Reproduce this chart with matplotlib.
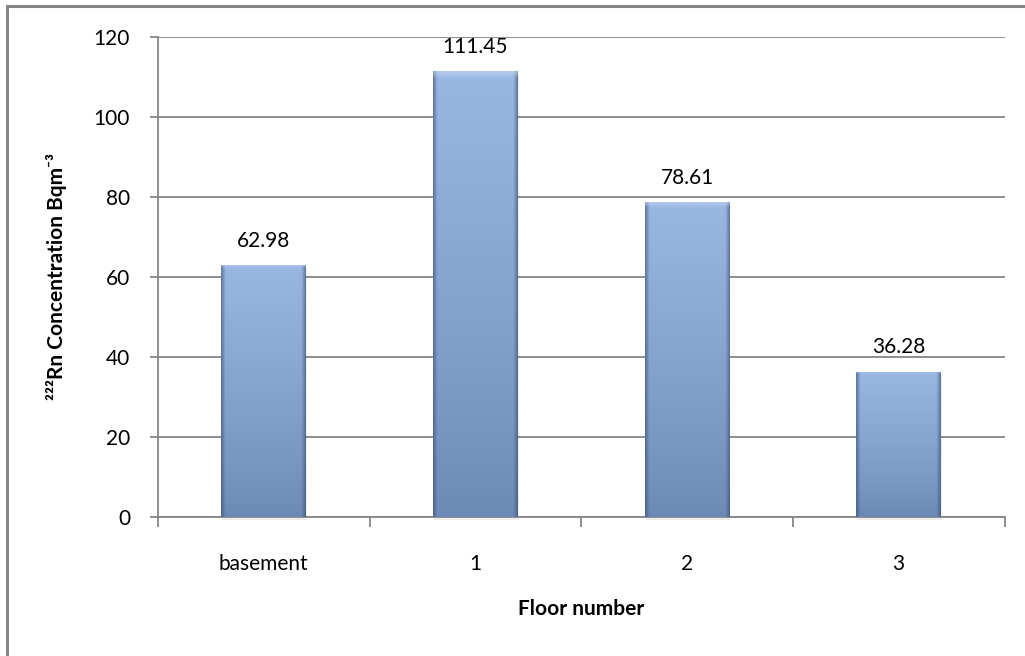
import numpy as np
import matplotlib
matplotlib.use("Agg")
import matplotlib.pyplot as plt
from matplotlib.patches import Rectangle
from matplotlib.colors import to_rgb

floors = ["basement", "1", "2", "3"]
radon = [62.98, 111.45, 78.61, 36.28]
y_ticks = [0, 20, 40, 60, 80, 100, 120]

plt.rcParams["font.family"] = ["Lato", "DejaVu Sans"]

fig = plt.figure(figsize=(10.25, 6.56), dpi=100)
ax = fig.add_axes([0.154, 0.212, 0.826, 0.732])

bar_w = 0.40
x = np.arange(len(floors))

top_c = np.array(to_rgb("#9ab7e3"))
bot_c = np.array(to_rgb("#6c89b6"))
edge_c = np.array(to_rgb("#34496e"))


def bar_image(h_px=200, w_px=80):
    t = np.linspace(0, 1, h_px)[:, None, None]       # 0 bottom -> 1 top
    base = bot_c + (top_c - bot_c) * t ** 0.8
    img = np.repeat(base, w_px, axis=1)
    u = np.linspace(0, 1, w_px)
    side = np.clip(1 - np.minimum(u, 1 - u) / 0.05, 0, 1)[None, :, None]
    img = img * (1 - 0.55 * side) + edge_c * 0.55 * side
    # light bevel at the top
    top = np.clip((t - 0.985) / 0.015, 0, 1)
    img = img * (1 - 0.5 * top) + np.array(to_rgb("#c9dbf5")) * 0.5 * top
    return np.clip(img, 0, 1)


for xi, v in zip(x, radon):
    # soft shadow under each bar
    ax.add_patch(Rectangle((xi - bar_w / 2 + 0.005, -0.8), bar_w, v, facecolor="#000000",
                           alpha=0.07, edgecolor="none", zorder=2, clip_on=False))
    rect = Rectangle((xi - bar_w / 2, 0), bar_w, v, facecolor="none", edgecolor="none", zorder=3)
    ax.add_patch(rect)
    im = ax.imshow(bar_image(), extent=(xi - bar_w / 2, xi + bar_w / 2, 0, v),
                   origin="lower", aspect="auto", zorder=3, interpolation="bilinear")
    im.set_clip_path(rect)
    ax.text(xi, v + 3.6, f"{v:.2f}", ha="center", va="bottom", fontsize=15, color="#000000")

ax.set_xlim(-0.5, len(floors) - 0.5)
ax.set_ylim(0, 120)
ax.set_yticks(y_ticks)
ax.set_yticklabels([str(t) for t in y_ticks], fontsize=15)
ax.set_xticks(x)
ax.set_xticklabels(floors, fontsize=15)
ax.set_xticks(np.arange(-0.5, len(floors), 1.0), minor=True)

ax.grid(axis="y", color="#868686", linewidth=1.3, zorder=0)
ax.set_axisbelow(True)
for s in ["top", "right"]:
    ax.spines[s].set_visible(False)
for s in ["left", "bottom"]:
    ax.spines[s].set_color("#868686")
    ax.spines[s].set_linewidth(1.3)

ax.tick_params(axis="y", length=6, width=1.3, color="#868686", pad=14)
ax.tick_params(axis="x", which="major", length=0, pad=27)
ax.tick_params(axis="x", which="minor", length=7, width=1.3, color="#868686")

ax.set_ylabel("²²²Rn Concentration Bqm⁻³", fontsize=15, fontweight="bold", labelpad=19)
ax.set_xlabel("Floor number", fontsize=15, fontweight="bold", labelpad=18)

# outer chart border
fig.add_artist(Rectangle((7 / 1025, -0.1), 1.2, 1 - 6 / 656 + 0.1, transform=fig.transFigure,
                         facecolor="none", edgecolor="#868686", linewidth=2.2))

fig.savefig("out.png", dpi=100)
